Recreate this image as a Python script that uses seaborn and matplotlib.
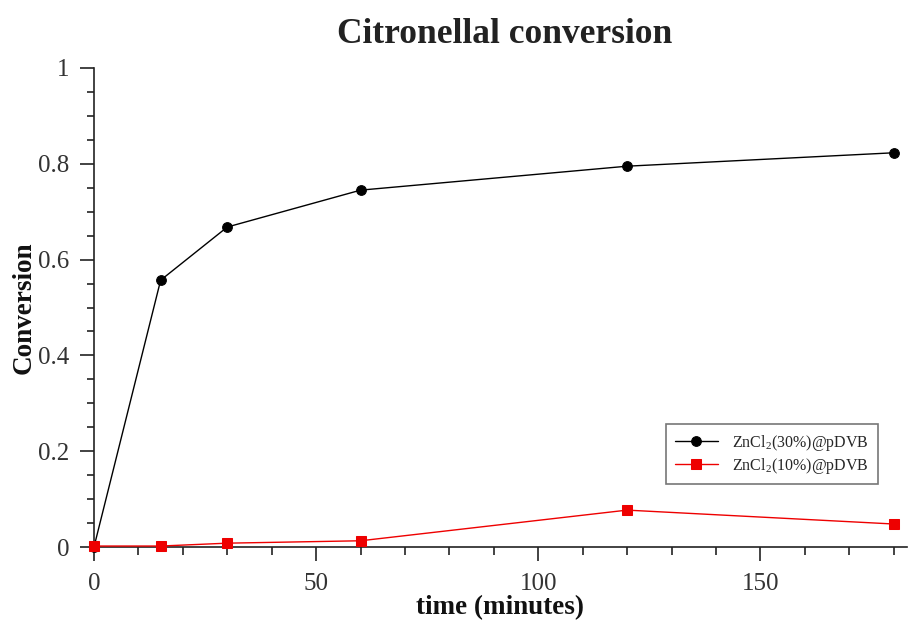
import matplotlib
matplotlib.use("Agg")
import matplotlib.pyplot as plt
from matplotlib.ticker import MultipleLocator, FuncFormatter
import seaborn as sns
import pandas as pd

# Reaction time points (minutes) and conversion for the two catalysts
time_min = [0, 15, 30, 60, 120, 180]
conv_30 = [0.0, 0.557, 0.668, 0.745, 0.795, 0.823]
conv_10 = [0.002, 0.002, 0.008, 0.013, 0.077, 0.048]
label_30 = "ZnCl$_2$(30%)@pDVB"
label_10 = "ZnCl$_2$(10%)@pDVB"

sns.set_style("ticks")
plt.rcParams["font.family"] = ["Liberation Serif", "DejaVu Serif"]
plt.rcParams["mathtext.fontset"] = "custom"
plt.rcParams["mathtext.rm"] = "Liberation Serif"
plt.rcParams["mathtext.it"] = "Liberation Serif:italic"
plt.rcParams["mathtext.bf"] = "Liberation Serif:bold"

df30 = pd.DataFrame({"time": time_min, "conv": conv_30})
df10 = pd.DataFrame({"time": time_min, "conv": conv_10})

fig = plt.figure(figsize=(9.09, 6.21), dpi=100)
ax = fig.add_axes([94 / 909, (621 - 547) / 621, (907 - 94) / 909, (547 - 68) / 621])

sns.lineplot(data=df30, x="time", y="conv", ax=ax, color="black", lw=1.0,
             marker="o", markersize=7, markeredgecolor="black", label=label_30,
             clip_on=False, zorder=3)
sns.lineplot(data=df10, x="time", y="conv", ax=ax, color="#ee0000", lw=1.0,
             marker="s", markersize=7.5, markeredgecolor="#ee0000", label=label_10,
             clip_on=False, zorder=3)

ax.set_xlim(0, 183)
ax.set_ylim(0, 1)
ax.xaxis.set_major_locator(MultipleLocator(50))
ax.xaxis.set_minor_locator(MultipleLocator(10))
ax.yaxis.set_major_locator(MultipleLocator(0.2))
ax.yaxis.set_minor_locator(MultipleLocator(0.05))
ax.yaxis.set_major_formatter(FuncFormatter(lambda v, p: f"{v:g}"))
ax.tick_params(which="both", direction="out", width=1.2, color="#222222",
               labelsize=18, labelcolor="#333333")
ax.tick_params(axis="x", which="major", length=10, pad=9)
ax.tick_params(axis="x", which="minor", length=6)
ax.tick_params(axis="y", which="major", length=10, pad=8)
ax.tick_params(axis="y", which="minor", length=5)

for s in ["top", "right"]:
    ax.spines[s].set_visible(False)
for s in ["left", "bottom"]:
    ax.spines[s].set_linewidth(1.2)
    ax.spines[s].set_color("#222222")

ax.set_xlabel("time (minutes)", fontsize=19.5, fontweight="bold", labelpad=0,
              color="#111111")
ax.set_ylabel("Conversion", fontsize=19.5, fontweight="bold", labelpad=1,
              color="#111111")
ax.set_title("Citronellal conversion", fontsize=25.5, fontweight="bold", pad=18,
             color="#222222", x=(504.5 - 94) / 813)

leg = ax.legend(loc="upper left", bbox_to_anchor=((666 - 94) / 813, (547 - 424) / 479),
                borderaxespad=0, fontsize=11.5, frameon=True, fancybox=False,
                edgecolor="#555555", handlelength=2.7, handletextpad=0.9,
                borderpad=0.55, labelspacing=0.18)
leg.get_frame().set_linewidth(1.2)

fig.savefig("out.png", dpi=100)
